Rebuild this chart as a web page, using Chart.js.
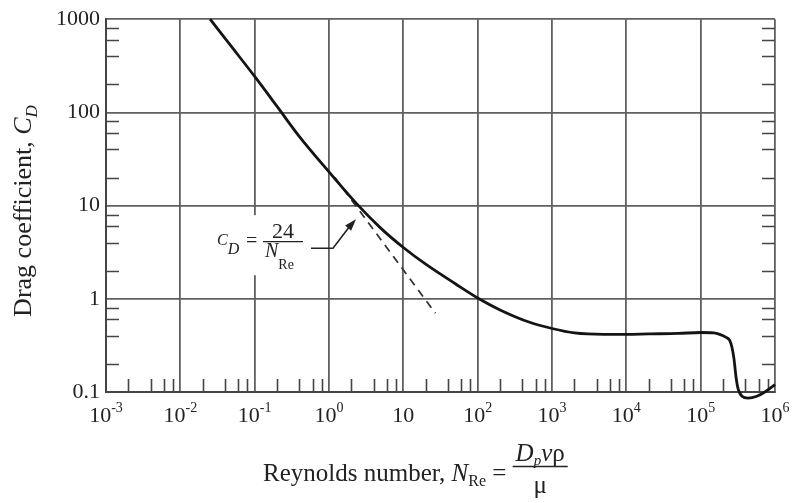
<!DOCTYPE html>
<html>
<head>
<meta charset="utf-8">
<script src="https://cdn.jsdelivr.net/npm/chart.js@4/dist/chart.umd.min.js"></script>
<style>
html,body{margin:0;padding:0;background:#fff;}
#wrap{width:795px;height:503px;}
</style>
</head>
<body>
<div id="wrap"><canvas id="c" width="795" height="503"></canvas></div>
<script>
// ---- data ----
const reynolds = [0.0251, 0.05, 0.1, 0.2, 0.4, 1, 2.4, 5, 10, 20, 50, 100, 200, 500, 1000, 2000, 5000, 1e4, 2e4, 5e4, 1e5, 1.5e5, 1.8e5, 2.2e5, 2.45e5, 2.64e5, 2.81e5, 2.99e5, 3.18e5, 3.6e5, 4.34e5, 5.7e5, 7.3e5, 1e6];
const dragCoeff = [1000, 495, 243, 116, 55, 23, 10.3, 5.7, 3.55, 2.35, 1.45, 1.02, 0.76, 0.56, 0.48, 0.43, 0.415, 0.415, 0.42, 0.425, 0.435, 0.43, 0.415, 0.385, 0.36, 0.30, 0.225, 0.145, 0.109, 0.09, 0.086, 0.09, 0.10, 0.12];
const stokesRe = [1.2, 27];
const stokesCd = [20, 0.7];
const xMajorTicks = [1e-3, 1e-2, 1e-1, 1, 10, 100, 1e3, 1e4, 1e5, 1e6];
const xTickBase = ['10', '10', '10', '10', '10', '10', '10', '10', '10', '10'];
const xTickExp = ['-3', '-2', '-1', '0', '', '2', '3', '4', '5', '6'];
const yMajorTicks = [0.1, 1, 10, 100, 1000];
const yTickLabels = ['0.1', '1', '10', '100', '1000'];
const minorMultipliers = [2, 4, 6, 8];
const yTitle = ['Drag coefficient, ', 'C', 'D'];
const xTitle = ['Reynolds number, ', 'N', 'Re', ' = ', 'D', 'p', 'v', 'ρ', 'μ'];
const annotText = ['C', 'D', '=', '24', 'N', 'Re'];

const SERIF = '"Liberation Serif", "DejaVu Serif", serif';
const INK = '#141414';
const GRID = '#606060';

function drawParts(ctx, parts, x, y) {
  let cx = x;
  for (const p of parts) {
    ctx.font = p.font;
    ctx.fillText(p.t, cx, y + (p.dy || 0));
    cx += ctx.measureText(p.t).width + (p.gap || 0);
  }
  return cx;
}
function partsWidth(ctx, parts) {
  let w = 0;
  for (const p of parts) { ctx.font = p.font; w += ctx.measureText(p.t).width + (p.gap || 0); }
  return w;
}

const deco = {
  id: 'deco',
  beforeDatasetsDraw(chart) {
    const {ctx, chartArea: ca, scales: {x: xs, y: ys}} = chart;
    ctx.save();
    // inner minor ticks
    ctx.strokeStyle = '#444';
    ctx.lineWidth = 1.6;
    ctx.beginPath();
    for (let k = 0; k < xMajorTicks.length - 1; k++) {
      for (const m of minorMultipliers) {
        const px = Math.round(xs.getPixelForValue(xMajorTicks[k] * m)) + 0.5;
        ctx.moveTo(px, ca.bottom);
        ctx.lineTo(px, ca.bottom - 13);
      }
    }
    for (let k = 0; k < yMajorTicks.length - 1; k++) {
      for (const m of minorMultipliers) {
        const py = Math.round(ys.getPixelForValue(yMajorTicks[k] * m)) + 0.5;
        ctx.moveTo(ca.left, py); ctx.lineTo(ca.left + 13, py);
        ctx.moveTo(ca.right, py); ctx.lineTo(ca.right - 13, py);
      }
    }
    ctx.stroke();
    // white box behind annotation
    ctx.fillStyle = '#fff';
    ctx.fillRect(ca.left + 106, ca.top + 196, 96, 60);
    ctx.restore();
  },
  afterDraw(chart) {
    const {ctx, chartArea: ca, scales: {x: xs, y: ys}} = chart;
    ctx.save();
    ctx.fillStyle = '#222';
    ctx.textBaseline = 'alphabetic';
    ctx.textAlign = 'left';
    // x tick labels with superscripts
    const baseY = ca.bottom + 30;
    for (let i = 0; i < xMajorTicks.length; i++) {
      const px = xs.getPixelForValue(xMajorTicks[i]);
      const parts = [{t: xTickBase[i], font: '22px ' + SERIF}];
      if (xTickExp[i]) parts.push({t: xTickExp[i], font: '14px ' + SERIF, dy: -10});
      const w = partsWidth(ctx, parts);
      drawParts(ctx, parts, px - w / 2, baseY);
    }
    // y title (rotated)
    ctx.save();
    ctx.translate(31, 211);
    ctx.rotate(-Math.PI / 2);
    const yp = [
      {t: yTitle[0], font: '26px ' + SERIF},
      {t: yTitle[1], font: 'italic 26px ' + SERIF},
      {t: yTitle[2], font: 'italic 17px ' + SERIF, dy: 6}
    ];
    const yw = partsWidth(ctx, yp);
    drawParts(ctx, yp, -yw / 2, 0);
    ctx.restore();
    // x title with fraction
    const tx = ca.left + 157, ty = 481;
    let cx = drawParts(ctx, [
      {t: xTitle[0], font: '25px ' + SERIF},
      {t: xTitle[1], font: 'italic 25px ' + SERIF},
      {t: xTitle[2], font: '16px ' + SERIF, dy: 5},
      {t: xTitle[3], font: '25px ' + SERIF}
    ], tx, ty);
    const num = [
      {t: xTitle[4], font: 'italic 25px ' + SERIF},
      {t: xTitle[5], font: 'italic 15px ' + SERIF, dy: 4},
      {t: xTitle[6], font: 'italic 25px ' + SERIF},
      {t: xTitle[7], font: '25px ' + SERIF}
    ];
    const nw = partsWidth(ctx, num);
    const barW = nw + 6;
    drawParts(ctx, num, cx + 3, ty - 20);
    ctx.strokeStyle = '#222';
    ctx.lineWidth = 1.4;
    ctx.beginPath();
    ctx.moveTo(cx, ty - 14.5); ctx.lineTo(cx + barW, ty - 14.5);
    ctx.stroke();
    ctx.font = '25px ' + SERIF;
    const mw = ctx.measureText(xTitle[8]).width;
    ctx.fillText(xTitle[8], cx + barW / 2 - mw / 2, ty + 12);

    // annotation C_D = 24 / N_Re
    const ax = ca.left, ay = ca.top;
    drawParts(ctx, [
      {t: annotText[0], font: 'italic 16px ' + SERIF},
      {t: annotText[1], font: 'italic 16px ' + SERIF, dy: 9}
    ], ax + 111, ay + 226);
    ctx.font = '20px ' + SERIF;
    ctx.fillText(annotText[2], ax + 140, ay + 228);
    ctx.font = '22px ' + SERIF;
    const w24 = ctx.measureText(annotText[3]).width;
    ctx.fillText(annotText[3], ax + 177 - w24 / 2, ay + 219);
    ctx.lineWidth = 1.3;
    ctx.beginPath();
    ctx.moveTo(ax + 157, ay + 222.5); ctx.lineTo(ax + 197, ay + 222.5);
    ctx.stroke();
    drawParts(ctx, [
      {t: annotText[4], font: 'italic 20px ' + SERIF},
      {t: annotText[5], font: '14px ' + SERIF, dy: 12}
    ], ax + 159, ay + 238);
    // arrow
    ctx.strokeStyle = '#222';
    ctx.lineWidth = 1.6;
    ctx.beginPath();
    ctx.moveTo(ax + 205, ay + 229);
    ctx.lineTo(ax + 227, ay + 229);
    ctx.lineTo(ax + 243, ay + 208);
    ctx.stroke();
    const tipX = ax + 250, tipY = ay + 200;
    const ang = Math.atan2(tipY - (ay + 208), tipX - (ax + 243));
    ctx.fillStyle = '#222';
    ctx.beginPath();
    ctx.moveTo(tipX, tipY);
    ctx.lineTo(tipX - 12 * Math.cos(ang) + 4 * Math.sin(ang), tipY - 12 * Math.sin(ang) - 4 * Math.cos(ang));
    ctx.lineTo(tipX - 12 * Math.cos(ang) - 4 * Math.sin(ang), tipY - 12 * Math.sin(ang) + 4 * Math.cos(ang));
    ctx.closePath();
    ctx.fill();
    ctx.restore();
  }
};

new Chart(document.getElementById('c'), {
  type: 'scatter',
  data: {
    datasets: [
      {
        data: reynolds.map((r, i) => ({x: r, y: dragCoeff[i]})),
        showLine: true,
        borderColor: INK,
        borderWidth: 2.8,
        pointRadius: 0,
        cubicInterpolationMode: 'monotone',
        clip: false
      },
      {
        data: stokesRe.map((r, i) => ({x: r, y: stokesCd[i]})),
        showLine: true,
        borderColor: '#333',
        borderWidth: 1.8,
        borderDash: [8, 6],
        pointRadius: 0,
        clip: false
      }
    ]
  },
  options: {
    responsive: false,
    animation: false,
    devicePixelRatio: 1,
    layout: {padding: {top: 11, right: 20, bottom: 0, left: 0}},
    plugins: {legend: {display: false}, tooltip: {enabled: false}},
    scales: {
      x: {
        type: 'logarithmic',
        min: 1e-3, max: 1e6,
        afterBuildTicks: s => { s.ticks = xMajorTicks.map(v => ({value: v})); },
        afterFit: s => { s.height = 111; },
        ticks: {display: false},
        grid: {color: GRID, lineWidth: 1.8, drawTicks: false},
        border: {display: true, color: '#444', width: 2}
      },
      y: {
        type: 'logarithmic',
        min: 0.1, max: 1000,
        afterBuildTicks: s => { s.ticks = yMajorTicks.map(v => ({value: v})); },
        afterFit: s => { s.width = 106; },
        ticks: {
          padding: 6,
          color: '#222',
          font: {family: SERIF, size: 22},
          callback: (v) => { const i = yMajorTicks.findIndex(t => Math.abs(t - v) / t < 1e-6); return i >= 0 ? yTickLabels[i] : ''; }
        },
        grid: {color: GRID, lineWidth: 1.8, drawTicks: false},
        border: {display: true, color: '#444', width: 2}
      }
    }
  },
  plugins: [deco]
});
</script>
</body>
</html>
